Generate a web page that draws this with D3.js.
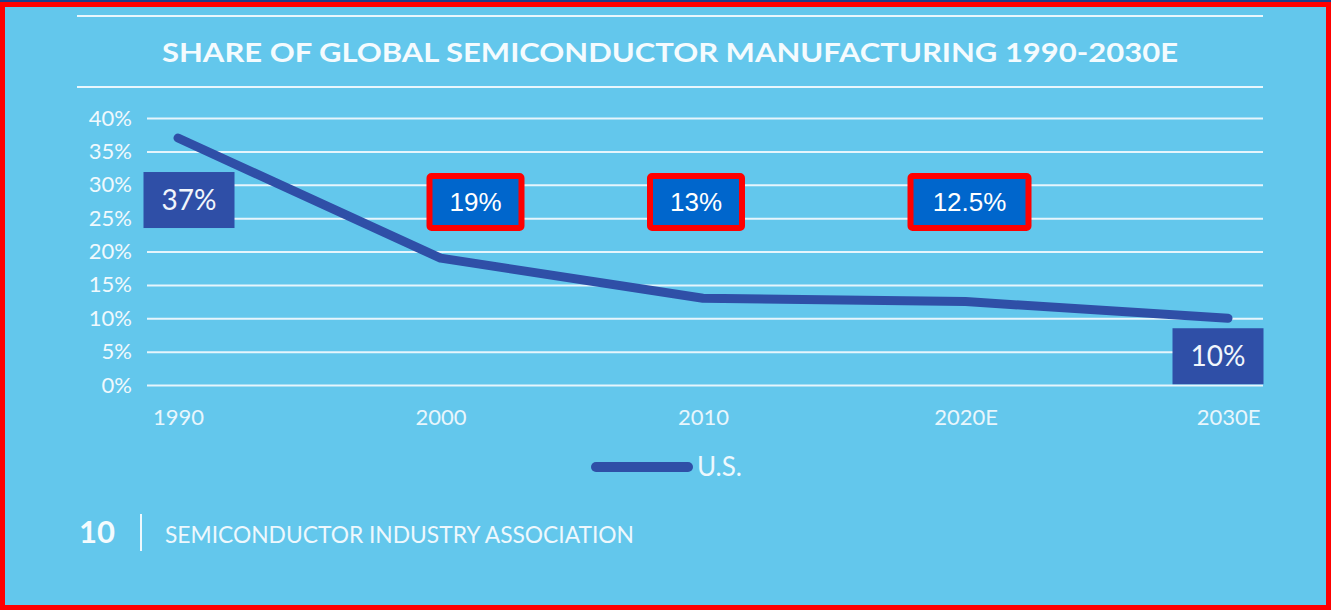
<!DOCTYPE html>
<html><head><meta charset="utf-8">
<script src="https://cdn.jsdelivr.net/npm/d3@7"></script>
<style>
html,body{margin:0;padding:0;background:#63c7ec;}
svg{display:block;}
</style></head>
<body>
<svg id="c" width="1331" height="610"></svg>
<script>
const categories = ["1990", "2000", "2010", "2020E", "2030E"];
const usShare = [37, 19, 13, 12.5, 10];
const yTicks = [0, 5, 10, 15, 20, 25, 30, 35, 40];
const pointLabels = ["37%", "19%", "13%", "12.5%", "10%"];
const labelStyle = ["orig", "edit", "edit", "edit", "orig"];
const seriesName = "U.S.";
const title = "SHARE OF GLOBAL SEMICONDUCTOR MANUFACTURING 1990-2030E";
const footerPage = "10";
const footerText = "SEMICONDUCTOR INDUSTRY ASSOCIATION";

const svg = d3.select("#c");
const W = 1331, H = 610;
svg.append("rect").attr("width", W).attr("height", H).attr("fill", "#63c7ec");

const x = d3.scalePoint().domain(categories).range([178, 1228]);
const y = d3.scaleLinear().domain([0, 40]).range([385, 118]);
const gridX0 = 147, gridX1 = 1263;
const font = "Lato, 'Open Sans', sans-serif";

// top rule and title rule
svg.append("line").attr("x1", 77).attr("x2", gridX1).attr("y1", 16).attr("y2", 16)
  .attr("stroke", "#e9f7fd").attr("stroke-width", 2);
svg.append("text").attr("x", 162).attr("y", 62).attr("fill", "#f4fbfe")
  .attr("font-family", font).attr("font-weight", 700)
  .attr("font-size", 27).attr("textLength", 1016).attr("lengthAdjust", "spacingAndGlyphs")
  .text(title);
svg.append("line").attr("x1", 77).attr("x2", gridX1).attr("y1", 87).attr("y2", 87)
  .attr("stroke", "#e9f7fd").attr("stroke-width", 2);

// y axis gridlines + labels
const yAxis = d3.axisLeft(y).tickValues(yTicks).tickFormat(d => d + "%")
  .tickSize(-(gridX1 - gridX0)).tickPadding(15);
const gy = svg.append("g").attr("transform", `translate(${gridX0},0)`).call(yAxis);
gy.select(".domain").remove();
gy.selectAll(".tick line").attr("stroke", "#e6f5fc").attr("stroke-width", 2);
gy.selectAll(".tick text").attr("fill", "#f0f9fd")
  .attr("font-family", font).attr("font-weight", 400)
  .attr("font-size", 22);

// x axis labels
const xAxis = d3.axisBottom(x).tickSize(0).tickPadding(0);
const gx = svg.append("g").attr("transform", `translate(0,409)`).call(xAxis);
gx.select(".domain").remove();
gx.selectAll(".tick text").attr("fill", "#e9f6fc")
  .attr("font-family", font).attr("font-weight", 400)
  .attr("font-size", 22).attr("dy", "0.71em");

// line
const data = categories.map((c, i) => ({c, v: usShare[i], label: pointLabels[i], style: labelStyle[i]}));
const line = d3.line().x(d => x(d.c)).y(d => y(d.v));
svg.append("path").datum(data).attr("d", line).attr("fill", "none")
  .attr("stroke", "#2f4fa7").attr("stroke-width", 9)
  .attr("stroke-linecap", "round").attr("stroke-linejoin", "round");

// labels
const boxes = svg.append("g");
data.forEach((d, i) => {
  if (d.style === "orig") {
    const w = 91, h = 56;
    let cx, cy;
    if (i === 0) { cx = x(d.c) + 11; cy = y(d.v) + 62; }
    else { cx = x(d.c) - 10; cy = y(d.v) + 38; }
    boxes.append("rect").attr("x", cx - w / 2).attr("y", cy - h / 2).attr("width", w).attr("height", h)
      .attr("fill", "#2f4fa7");
    boxes.append("text").attr("x", cx).attr("y", cy).attr("dy", "0.35em")
      .attr("text-anchor", "middle").attr("fill", "#f1f6fc")
      .attr("font-family", font).attr("font-weight", 400)
      .attr("font-size", 28).text(d.label);
  } else {
    const w = d.label.length > 3 ? 118 : 92, h = 52;
    const cx = x(d.c) + (i === 1 ? 35 : i === 2 ? -7 : 4);
    const cy = 202;
    boxes.append("rect").attr("x", cx - w / 2).attr("y", cy - h / 2).attr("width", w).attr("height", h)
      .attr("fill", "#0066cc").attr("stroke", "#ff0000").attr("stroke-width", 6).attr("rx", 2);
    boxes.append("text").attr("x", cx).attr("y", cy).attr("dy", "0.36em")
      .attr("text-anchor", "middle").attr("fill", "#ffffff")
      .attr("font-family", "'Liberation Sans', Arial, sans-serif")
      .attr("font-size", 26).text(d.label);
  }
});

// legend
const lg = svg.append("g");
lg.append("line").attr("x1", 596).attr("x2", 688).attr("y1", 467).attr("y2", 467)
  .attr("stroke", "#2f4fa7").attr("stroke-width", 10).attr("stroke-linecap", "round");
lg.append("text").attr("x", 697).attr("y", 467).attr("dy", "0.35em").attr("fill", "#eef8fd")
  .attr("font-family", font).attr("font-size", 26).text(seriesName);

// footer
svg.append("text").attr("x", 79).attr("y", 532).attr("dy", "0.35em").attr("fill", "#f4fbfe")
  .attr("font-family", font).attr("font-weight", 700)
  .attr("font-size", 31).text(footerPage);
svg.append("line").attr("x1", 141).attr("x2", 141).attr("y1", 514).attr("y2", 551)
  .attr("stroke", "#eef8fd").attr("stroke-width", 2);
svg.append("text").attr("x", 165).attr("y", 535).attr("dy", "0.35em").attr("fill", "#eef8fd")
  .attr("font-family", font).attr("font-weight", 400)
  .attr("font-size", 23).attr("textLength", 469).attr("lengthAdjust", "spacingAndGlyphs")
  .text(footerText);

// outer red frame
svg.append("rect").attr("x", 2.5).attr("y", 4.5).attr("width", W - 5).attr("height", H - 7)
  .attr("fill", "none").attr("stroke", "#ff0000").attr("stroke-width", 5);
svg.append("rect").attr("x", 0).attr("y", 0).attr("width", W).attr("height", 2).attr("fill", "#1d3f8a");
</script>
</body></html>
